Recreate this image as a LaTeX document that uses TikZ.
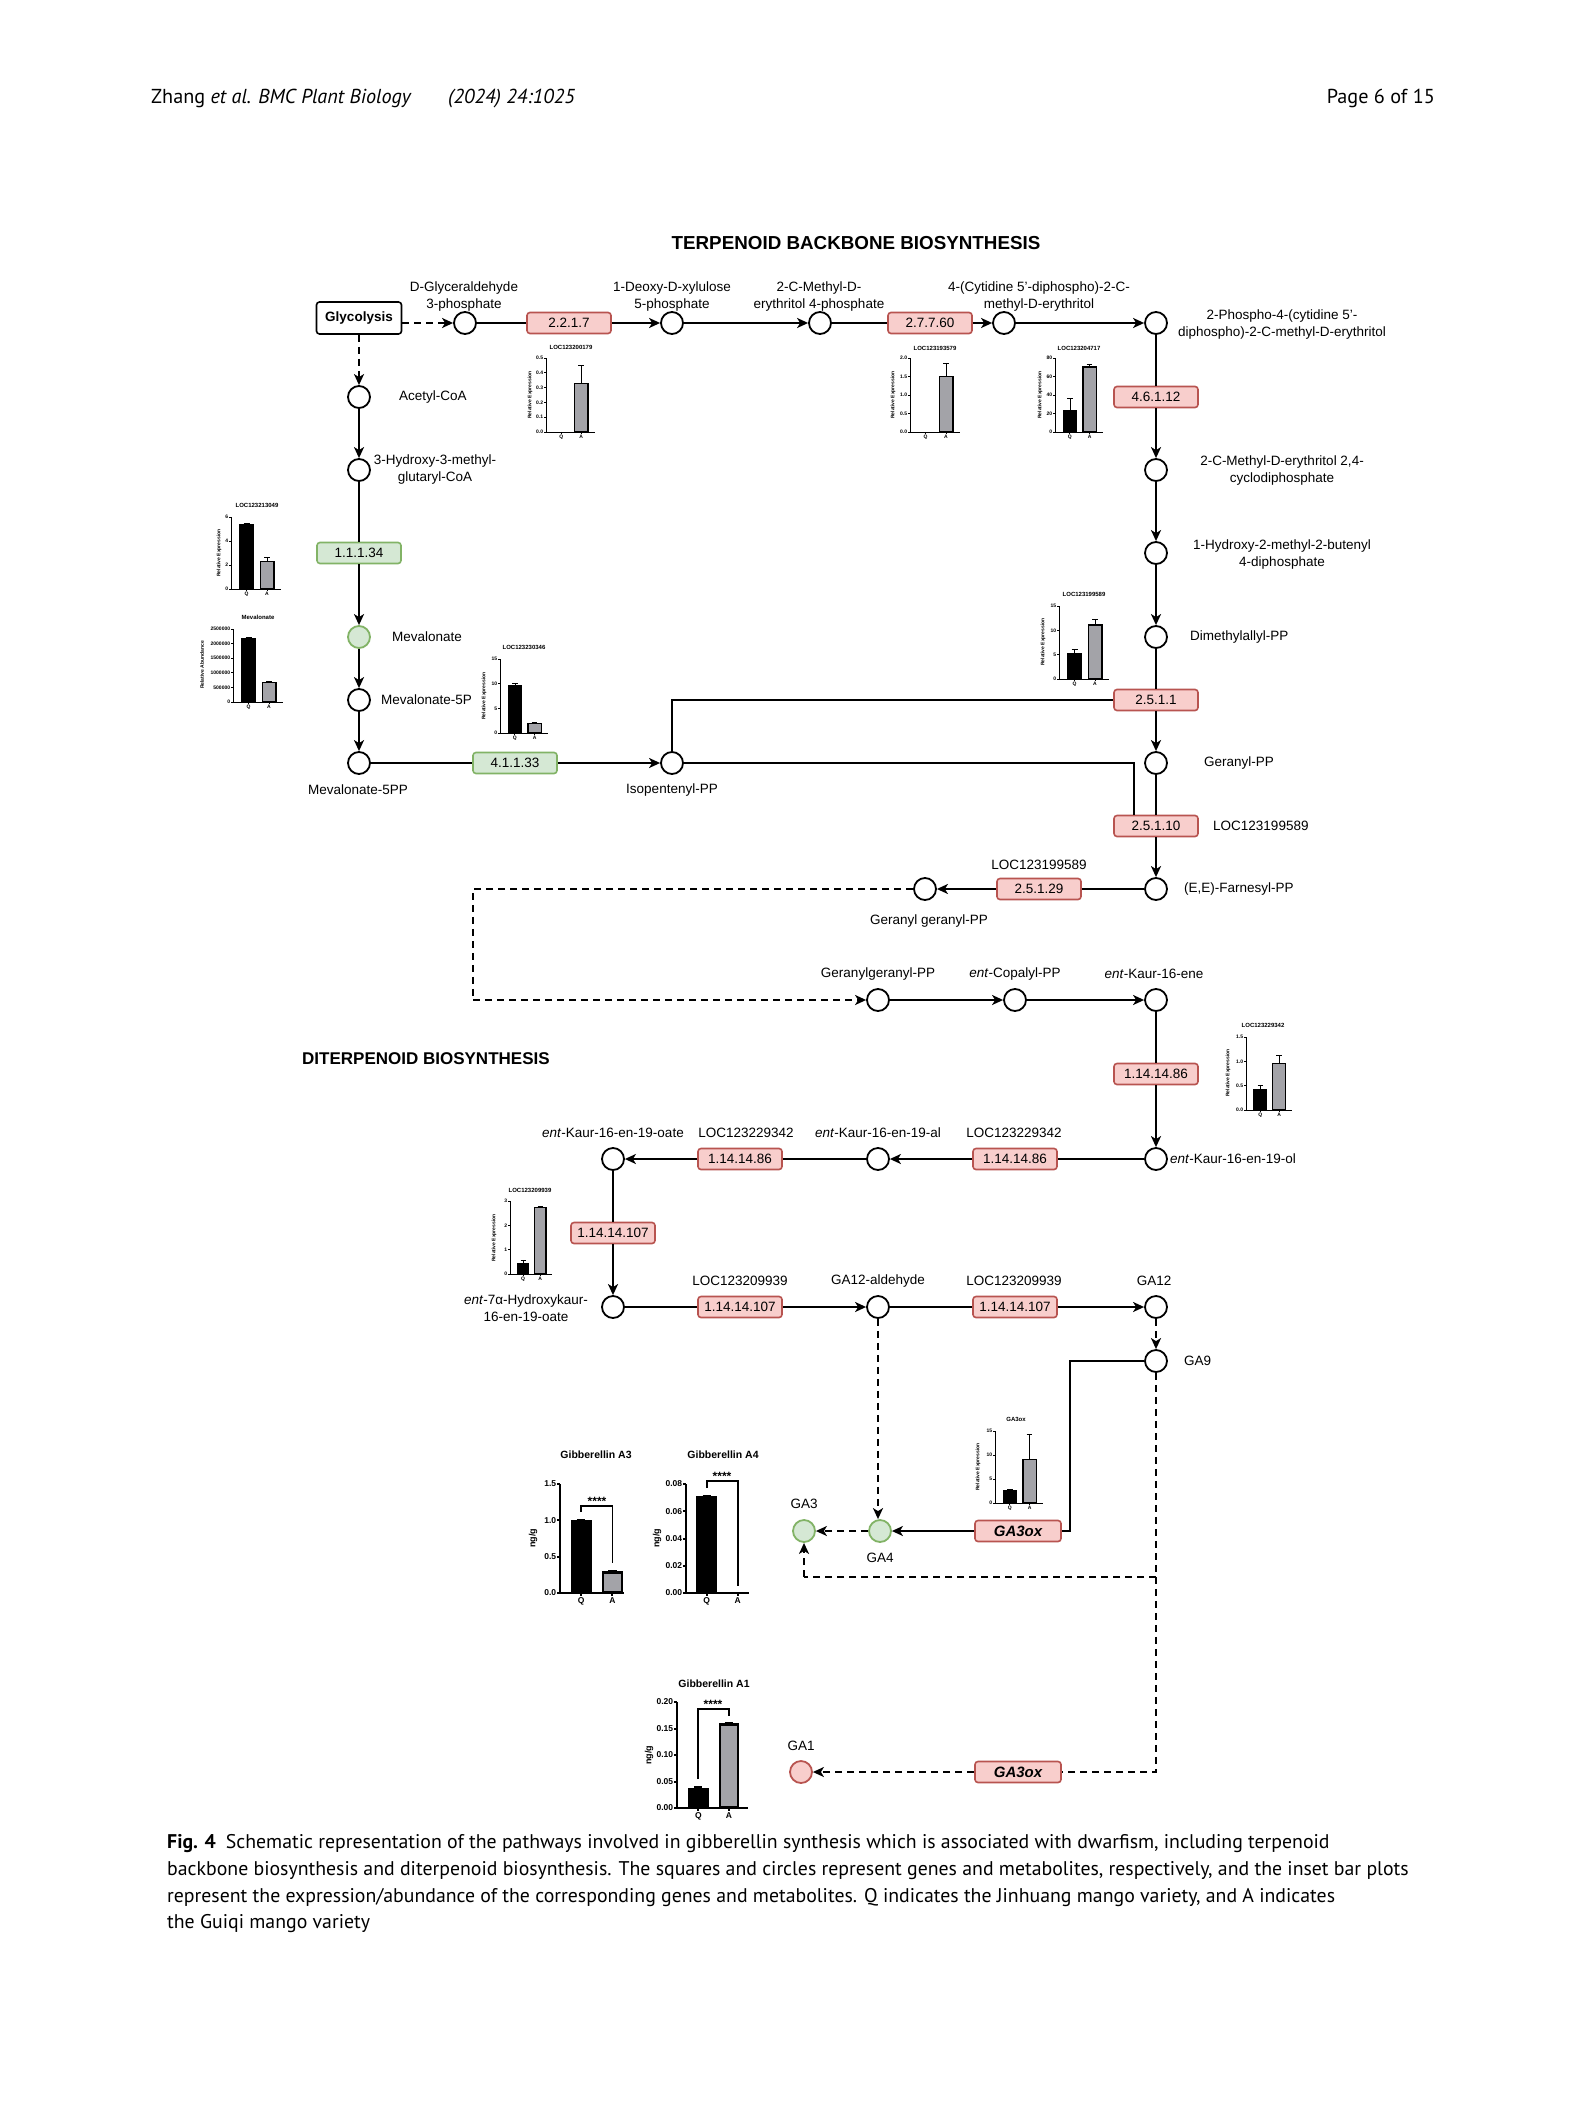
\documentclass[tikz,border=0pt]{standalone}
\usepackage{fontspec}
\setmainfont{Liberation Sans}
\newfontfamily\capfont{PT Sans}
\usetikzlibrary{arrows.meta}
\definecolor{redf}{HTML}{F8CECC}
\definecolor{redd}{HTML}{B85450}
\definecolor{grnf}{HTML}{D5E8D4}
\definecolor{grnd}{HTML}{82B366}
\definecolor{cgray}{HTML}{A3A3A8}
\newcommand\lblf{\fontsize{13.5}{17}\selectfont}
\newcommand\ttlf{\fontsize{17}{20}\selectfont\bfseries}
\newcommand\capf{\fontsize{19.8}{27}\selectfont\capfont}
\newcommand\tickf{\fontsize{5}{5.5}\selectfont\bfseries}
\newcommand\bigtickf{\fontsize{8.5}{10}\selectfont\bfseries}
\newcommand\ctitf{\fontsize{6}{6.5}\selectfont\bfseries}
\newcommand\bigtitf{\fontsize{10.5}{12}\selectfont\bfseries}
\newcommand\cylabf{\fontsize{5}{5.5}\selectfont\bfseries}
\newcommand\bigylabf{\fontsize{9}{10}\selectfont\bfseries}
\newcommand\starf{\fontsize{12}{13}\selectfont\bfseries}
\def\qx{0.31}\def\ax{0.72}\def\bwf{0.30}\def\ctl{2}\def\cbw{1.2}
\newcommand\bchart[7]{%
\begin{scope}[shift={#2}]
\pgfmathsetmacro\cW{#3}%
\pgfmathsetmacro\cH{#4}%
\pgfmathsetmacro\cS{#4/#5}%
\pgfmathsetmacro\bw{\bwf*\cW}%
\pgfmathsetmacro\qc{\qx*\cW}%
\pgfmathsetmacro\ac{\ax*\cW}%
\foreach \q/\qe/\a/\ae in {#6}{%
 \pgfmathsetmacro\qh{\q*\cS}%
 \pgfmathsetmacro\qeh{\qe*\cS}%
 \pgfmathsetmacro\ah{\a*\cS}%
 \pgfmathsetmacro\aeh{\ae*\cS}%
 \ifdim\qh pt>0.05pt
  \draw[cerr] (\qc,-\qh) -- (\qc,-\qeh) (\qc-0.2*\bw,-\qeh) -- (\qc+0.2*\bw,-\qeh);
  \fill[black] (\qc-0.5*\bw,0) rectangle (\qc+0.5*\bw,-\qh);
 \fi
 \ifdim\ah pt>0.05pt
  \draw[cerr] (\ac,-\ah) -- (\ac,-\aeh) (\ac-0.2*\bw,-\aeh) -- (\ac+0.2*\bw,-\aeh);
  \filldraw[fill=cgray, draw=black, cbar] (\ac-0.5*\bw+0.5*\cbw,-0.5*\cbw) rectangle (\ac+0.5*\bw-0.5*\cbw,-\ah+0.5*\cbw);
 \fi
}%
\draw[cax] (0,-\cH) -- (0,0) -- (\cW,0);
\draw[cax] (\qc,0) -- (\qc,\ctl) (\ac,0) -- (\ac,\ctl);
\node[ctick, anchor=north] (#1-q) at (\qc,\ctl+1) {Q};
\node[ctick, anchor=north] (#1-a) at (\ac,\ctl+1) {A};
\foreach \v/\l [count=\i] in {#7}{%
 \draw[cax] (0,-\v*\cS) -- (-\ctl,-\v*\cS);
 \node[ctick, anchor=east] (#1-t\i) at (-\ctl-0.7,-\v*\cS) {\l};
}%
\end{scope}}
\tikzset{
 met/.style={circle, draw=black, line width=1.8pt, fill=white, minimum size=22pt, inner sep=0pt},
 metg/.style={met, draw=grnd, fill=grnf},
 metr/.style={met, draw=redd, fill=redf},
 enz/.style={draw=redd, fill=redf, line width=1.6pt, rounded corners=3pt, minimum width=84pt, minimum height=21pt, inner sep=0pt, font=\lblf},
 enzg/.style={enz, draw=grnd, fill=grnf},
 gabox/.style={enz, minimum width=86pt, font=\fontsize{15}{18}\selectfont\bfseries\itshape},
 gbox/.style={draw=black, fill=white, line width=1.6pt, rounded corners=3pt, minimum width=85pt, minimum height=32pt, inner sep=0pt, font=\lblf\bfseries},
 lab/.style={font=\lblf, align=center, inner sep=0pt},
 conn/.style={line width=1.9pt},
 arr/.style={conn, -{Stealth[length=11pt, width=10pt, inset=3pt]}},
 dsh/.style={conn, dash pattern=on 7pt off 5pt},
 darr/.style={dsh, -{Stealth[length=11pt, width=10pt, inset=3pt]}},
 cax/.style={line width=0.8pt, black},
 cerr/.style={line width=0.6pt},
 cbar/.style={line width=\cbw pt},
 ctick/.style={font=\tickf, inner sep=0pt},
 ctitle/.style={font=\ctitf, inner sep=0pt},
 cylab/.style={font=\cylabf, rotate=90, inner sep=0pt},
}
\begin{document}
\begin{tikzpicture}[x=1pt, y=-1pt]
\useasboundingbox (0,0) rectangle (1588,2108);
\fill[white] (0,0) rectangle (1588,2108);

% header
\node[anchor=base west, font=\fontsize{20.2}{22}\selectfont\capfont, inner sep=0pt] (hd1) at (151,104) {Zhang \textit{et al. BMC Plant Biology}};
\node[anchor=base west, font=\fontsize{20.2}{22}\selectfont\capfont\itshape, inner sep=0pt] (hd2) at (448,104) {(2024) 24:1025};
\node[anchor=base east, font=\fontsize{20.2}{22}\selectfont\capfont, inner sep=0pt] (hd3) at (1435,104) {Page 6 of 15};

% titles
\node[font=\fontsize{18.8}{22}\selectfont\bfseries, inner sep=0pt] (tt1) at (856,243) {TERPENOID BACKBONE BIOSYNTHESIS};
\node[font=\ttlf, inner sep=0pt, anchor=west] (tt2) at (302,1059) {DITERPENOID BIOSYNTHESIS};

% metabolites
\node[gbox] (gly) at (359,318) {Glycolysis};
\node[met] (glp) at (465,323) {};
\node[met] (dxp) at (672,323) {};
\node[met] (mep) at (820,323) {};
\node[met] (cdp) at (1004,323) {};
\node[met] (cdpp) at (1156,323) {};
\node[met] (mecpp) at (1156,470) {};
\node[met] (hmbpp) at (1156,553) {};
\node[met] (dmapp) at (1156,637) {};
\node[met] (gpp) at (1156,763) {};
\node[met] (fpp) at (1156,889) {};
\node[met] (ggpp1) at (925,889) {};
\node[met] (acoa) at (359,397) {};
\node[met] (hmg) at (359,470) {};
\node[metg] (mva) at (359,637) {};
\node[met] (mvp) at (359,700) {};
\node[met] (mvpp) at (359,763) {};
\node[met] (ipp) at (672,763) {};
\node[met] (ggpp2) at (878,1000) {};
\node[met] (cpp) at (1015,1000) {};
\node[met] (kau) at (1156,1000) {};
\node[met] (kaol) at (1156,1159) {};
\node[met] (kaal) at (878,1159) {};
\node[met] (kaoa) at (613,1159) {};
\node[met] (hka) at (613,1307) {};
\node[met] (gaal) at (878,1307) {};
\node[met] (ga12) at (1156,1307) {};
\node[met] (ga9) at (1156,1361) {};
\node[metg] (ga4) at (880,1531) {};
\node[metg] (ga3) at (804,1531) {};
\node[metr] (ga1) at (801,1772) {};

% enzymes
\node[enz] (e1) at (569,323) {2.2.1.7};
\node[enz] (e2) at (930,323) {2.7.7.60};
\node[enz] (e3) at (1156,397) {4.6.1.12};
\node[enzg] (e4) at (359,553) {1.1.1.34};
\node[enzg] (e5) at (515,763) {4.1.1.33};
\node[enz] (e6) at (1156,700) {2.5.1.1};
\node[enz] (e7) at (1156,826) {2.5.1.10};
\node[enz] (e8) at (1039,889) {2.5.1.29};
\node[enz] (e9) at (1156,1074) {1.14.14.86};
\node[enz] (e10) at (1015,1159) {1.14.14.86};
\node[enz] (e11) at (740,1159) {1.14.14.86};
\node[enz] (e12) at (613,1233) {1.14.14.107};
\node[enz] (e13) at (740,1307) {1.14.14.107};
\node[enz] (e14) at (1015,1307) {1.14.14.107};
\node[gabox] (ox1) at (1018,1531) {GA3ox};
\node[gabox] (ox2) at (1018,1772) {GA3ox};

% labels
\node[lab] (lglp) at (464,297) {D-Glyceraldehyde\\3-phosphate};
\node[lab] (ldxp) at (672,297) {1-Deoxy-D-xylulose\\5-phosphate};
\node[lab] (lmep) at (819,297) {2-C-Methyl-D-\\erythritol 4-phosphate};
\node[lab] (lcdp) at (1039,297) {4-(Cytidine 5'-diphospho)-2-C-\\methyl-D-erythritol};
\node[lab] (lcdpp) at (1282,325) {2-Phospho-4-(cytidine 5'-\\diphospho)-2-C-methyl-D-erythritol};
\node[lab, anchor=west] (lacoa) at (399,397) {Acetyl-CoA};
\node[lab] (lhmg) at (435,470) {3-Hydroxy-3-methyl-\\glutaryl-CoA};
\node[lab, anchor=west] (lmva) at (392,637) {Mevalonate};
\node[lab, anchor=west] (lmvp) at (381,700) {Mevalonate-5P};
\node[lab] (lmvpp) at (358,790) {Mevalonate-5PP};
\node[lab] (lipp) at (672,790) {Isopentenyl-PP};
\node[lab] (lmecpp) at (1282,471) {2-C-Methyl-D-erythritol 2,4-\\cyclodiphosphate};
\node[lab] (lhmbpp) at (1282,555) {1-Hydroxy-2-methyl-2-butenyl\\4-diphosphate};
\node[lab, anchor=west] (ldmapp) at (1190,637) {Dimethylallyl-PP};
\node[lab, anchor=west] (lgpp) at (1204,763) {Geranyl-PP};
\node[lab, anchor=west] (lloc1) at (1213,826) {LOC123199589};
\node[lab, anchor=west] (lfpp) at (1184,889) {(E,E)-Farnesyl-PP};
\node[lab] (lloc2) at (1039,865) {LOC123199589};
\node[lab] (lggpp1) at (929,921) {Geranyl geranyl-PP};
\node[lab] (lggpp2) at (878,974) {Geranylgeranyl-PP};
\node[lab] (lcpp) at (1015,974) {\textit{ent}-Copalyl-PP};
\node[lab] (lkau) at (1154,974) {\textit{ent}-Kaur-16-ene};
\node[lab, anchor=west] (lkaol) at (1170,1159) {\textit{ent}-Kaur-16-en-19-ol};
\node[lab] (lkaoa) at (613,1133) {\textit{ent}-Kaur-16-en-19-oate};
\node[lab] (lloc3) at (746,1133) {LOC123229342};
\node[lab] (lkaal) at (878,1133) {\textit{ent}-Kaur-16-en-19-al};
\node[lab] (lloc4) at (1014,1133) {LOC123229342};
\node[lab] (lhka) at (526,1308) {\textit{ent}-7α-Hydroxykaur-\\16-en-19-oate};
\node[lab] (lloc5) at (740,1281) {LOC123209939};
\node[lab] (lgaal) at (878,1281) {GA12-aldehyde};
\node[lab] (lloc6) at (1014,1281) {LOC123209939};
\node[lab] (lga12) at (1154,1281) {GA12};
\node[lab, anchor=west] (lga9) at (1184,1361) {GA9};
\node[lab] (lga3) at (804,1504) {GA3};
\node[lab] (lga4) at (880,1558) {GA4};
\node[lab] (lga1) at (801,1746) {GA1};

% connectors: terpenoid backbone
\draw[darr] (gly.east |- glp) -- (glp.west);
\draw[darr] (gly.south) -- (acoa.north);
\draw[conn] (glp.east) -- (e1.west);
\draw[arr] (e1.east) -- (dxp.west);
\draw[arr] (dxp.east) -- (mep.west);
\draw[conn] (mep.east) -- (e2.west);
\draw[arr] (e2.east) -- (cdp.west);
\draw[arr] (cdp.east) -- (cdpp.west);
\draw[conn] (cdpp.south) -- (e3.north);
\draw[arr] (e3.south) -- (mecpp.north);
\draw[arr] (mecpp.south) -- (hmbpp.north);
\draw[arr] (hmbpp.south) -- (dmapp.north);
\draw[conn] (dmapp.south) -- (e6.north);
\draw[arr] (e6.south) -- (gpp.north);
\draw[conn] (gpp.south) -- (e7.north);
\draw[arr] (e7.south) -- (fpp.north);
\draw[arr] (acoa.south) -- (hmg.north);
\draw[conn] (hmg.south) -- (e4.north);
\draw[arr] (e4.south) -- (mva.north);
\draw[arr] (mva.south) -- (mvp.north);
\draw[arr] (mvp.south) -- (mvpp.north);
\draw[conn] (mvpp.east) -- (e5.west);
\draw[arr] (e5.east) -- (ipp.west);
\draw[conn] (ipp.north) |- (e6.west);
\coordinate (k1) at (1134,763);
\draw[conn] (ipp.east) -- (k1) -- (k1 |- e7.north);
\draw[conn] (fpp.west) -- (e8.east);
\draw[arr] (e8.west) -- (ggpp1.east);
% diterpenoid
\coordinate (d1) at (473,889);
\coordinate (d2) at (473,1000);
\draw[dsh] (ggpp1.west) -- (d1) -- (d2);
\draw[darr] (d2) -- (ggpp2.west);
\draw[arr] (ggpp2.east) -- (cpp.west);
\draw[arr] (cpp.east) -- (kau.west);
\draw[conn] (kau.south) -- (e9.north);
\draw[arr] (e9.south) -- (kaol.north);
\draw[conn] (kaol.west) -- (e10.east);
\draw[arr] (e10.west) -- (kaal.east);
\draw[conn] (kaal.west) -- (e11.east);
\draw[arr] (e11.west) -- (kaoa.east);
\draw[conn] (kaoa.south) -- (e12.north);
\draw[arr] (e12.south) -- (hka.north);
\draw[conn] (hka.east) -- (e13.west);
\draw[arr] (e13.east) -- (gaal.west);
\draw[conn] (gaal.east) -- (e14.west);
\draw[arr] (e14.east) -- (ga12.west);
\draw[darr] (ga12.south) -- (ga9.north);
\draw[darr] (gaal.south) -- (gaal.south |- ga4.north);
\coordinate (g1) at (1070,1361);
\draw[conn] (ga9.west) -- (g1) |- (ox1.east);
\draw[arr] (ox1.west) -- (ga4.east);
\draw[darr] (ga4.west) -- (ga3.east);
\coordinate (g2) at (1156,1772);
\draw[dsh] (ga9.south) -- (g2) -- (ox2.east);
\draw[darr] (ox2.west) -- (ga1.east);
\coordinate (g3) at (1156,1577);
\coordinate (g4) at (804,1577);
\draw[dsh] (g3) -- (g4);
\draw[darr] (g4) -- (ga3.south);

% small bar charts
\bchart{c1}{(546,432)}{49}{74}{0.5}{0/0/0.33/0.45}{0/0.0,0.1/0.1,0.2/0.2,0.3/0.3,0.4/0.4,0.5/0.5}
\node[ctitle] (c1t) at (571,347) {LOC123200179};
\node[cylab] (c1y) at (530,395) {Relative Expression};
\bchart{c2}{(910,432)}{50}{74}{2.0}{0/0/1.52/1.87}{0/0.0,0.5/0.5,1/1.0,1.5/1.5,2/2.0}
\node[ctitle] (c2t) at (935,348) {LOC123193579};
\node[cylab] (c2y) at (893,395) {Relative Expression};
\bchart{c3}{(1055,432)}{48}{74}{80}{24/36/71/73}{0/0,20/20,40/40,60/60,80/80}
\node[ctitle] (c3t) at (1079,348) {LOC123204717};
\node[cylab] (c3y) at (1040,395) {Relative Expression};
\bchart{c4}{(231,589)}{50}{72}{6}{5.4/5.5/2.35/2.65}{0/0,2/2,4/4,6/6}
\node[ctitle] (c4t) at (257,505) {LOC123213049};
\node[cylab] (c4y) at (219,553) {Relative Expression};
\bchart{c5}{(233,702)}{50}{73}{2.5}{2.2/2.23/0.68/0.7}{0/0,0.5/500000,1/1000000,1.5/1500000,2/2000000,2.5/2500000}
\node[ctitle] (c5t) at (258,617) {Mevalonate};
\node[cylab] (c5y) at (202,665) {Relative Abundance};
\bchart{c6}{(500,733)}{48}{74}{15}{9.8/10.1/2.1/2.2}{0/0,5/5,10/10,15/15}
\node[ctitle] (c6t) at (524,647) {LOC123230346};
\node[cylab] (c6y) at (484,696) {Relative Expression};
\bchart{c7}{(1059,679)}{50}{73}{15}{5.4/6.1/11.2/12.3}{0/0,5/5,10/10,15/15}
\node[ctitle] (c7t) at (1084,594) {LOC123199589};
\node[cylab] (c7y) at (1043,642) {Relative Expression};
\bchart{c8}{(1246,1110)}{46}{73}{1.5}{0.43/0.5/0.97/1.13}{0/0.0,0.5/0.5,1/1.0,1.5/1.5}
\node[ctitle] (c8t) at (1263,1025) {LOC123229342};
\node[cylab] (c8y) at (1228,1073) {Relative Expression};
\bchart{c9}{(510,1274)}{42}{73}{3}{0.45/0.58/2.75/2.78}{0/0,1/1,2/2,3/3}
\node[ctitle] (c9t) at (530,1190) {LOC123209939};
\node[cylab] (c9y) at (494,1238) {Relative Expression};
\bchart{c10}{(995,1503)}{48}{72}{15}{2.7/2.85/9.2/14.3}{0/0,5/5,10/10,15/15}
\node[ctitle] (c10t) at (1016,1419) {GA3ox};
\node[cylab] (c10y) at (978,1467) {Relative Expression};

% big bar charts
\begin{scope}[cax/.style={line width=2pt, black}, cerr/.style={line width=1.5pt}, ctick/.style={font=\bigtickf, inner sep=0pt}]
\def\qx{0.33}\def\ax{0.82}\def\bwf{0.33}\def\ctl{3}\def\cbw{2.4}
\bchart{c11}{(560,1593)}{64}{109}{1.5}{1.0/1.01/0.3/0.31}{0/0.0,0.5/0.5,1/1.0,1.5/1.5}
\bchart{c12}{(686,1593)}{63}{109}{0.08}{0.071/0.0715/0/0}{0/0.00,0.02/0.02,0.04/0.04,0.06/0.06,0.08/0.08}
\def\qx{0.30}\def\ax{0.73}\def\bwf{0.29}
\bchart{c13}{(677,1808)}{71}{106}{0.2}{0.038/0.04/0.16/0.161}{0/0.00,0.05/0.05,0.1/0.10,0.15/0.15,0.2/0.20}
\end{scope}
\node[font=\bigtitf, inner sep=0pt] (c11t) at (596,1455) {Gibberellin A3};
\node[font=\bigylabf, rotate=90, inner sep=0pt] (c11y) at (533,1538) {ng/g};
\node[font=\bigtitf, inner sep=0pt] (c12t) at (723,1455) {Gibberellin A4};
\node[font=\bigylabf, rotate=90, inner sep=0pt] (c12y) at (657,1538) {ng/g};
\node[font=\bigtitf, inner sep=0pt] (c13t) at (714,1684) {Gibberellin A1};
\node[font=\bigylabf, rotate=90, inner sep=0pt] (c13y) at (649,1755) {ng/g};
% significance brackets
\draw[line width=1.6pt] (581,1512) -- (581,1506) -- (612.5,1506) -- (612.5,1563);
\node[font=\starf, inner sep=0pt] (s1) at (597,1501) {****};
\draw[line width=1.6pt] (707,1488) -- (707,1481) -- (738,1481) -- (738,1586);
\node[font=\starf, inner sep=0pt] (s2) at (722,1476) {****};
\draw[line width=1.6pt] (698,1779) -- (698,1709) -- (729,1709) -- (729,1716);
\node[font=\starf, inner sep=0pt] (s3) at (713,1704) {****};

% caption
\node[anchor=base west, font=\capf, inner sep=0pt] (cap1) at (167,1848) {\textbf{Fig. 4}\hspace{0.5em}Schematic representation of the pathways involved in gibberellin synthesis which is associated with dwarfism, including terpenoid};
\node[anchor=base west, font=\capf, inner sep=0pt] (cap2) at (167,1875) {backbone biosynthesis and diterpenoid biosynthesis. The squares and circles represent genes and metabolites, respectively, and the inset bar plots};
\node[anchor=base west, font=\capf, inner sep=0pt] (cap3) at (167,1902) {represent the expression/abundance of the corresponding genes and metabolites. Q indicates the Jinhuang mango variety, and A indicates};
\node[anchor=base west, font=\capf, inner sep=0pt] (cap4) at (167,1928) {the Guiqi mango variety};
\end{tikzpicture}
\end{document}
